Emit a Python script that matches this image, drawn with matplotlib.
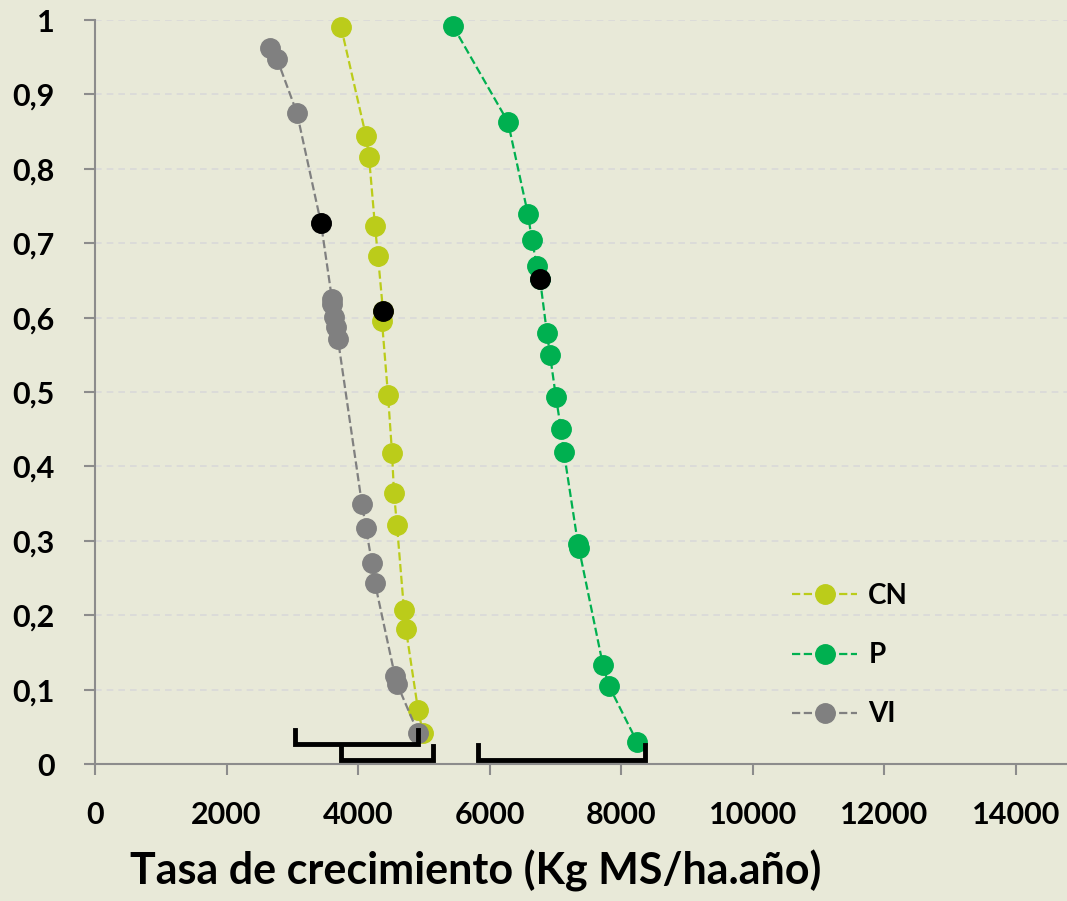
import matplotlib.pyplot as plt

# Data (x = growth rate, y = cumulative probability)
vi_x = [2660, 2766, 3070, 3435, 3602, 3605, 3633, 3663, 3693, 4058, 4119, 4210, 4256, 4560, 4590, 4910]
vi_y = [0.962, 0.948, 0.875, 0.727, 0.625, 0.618, 0.601, 0.587, 0.571, 0.349, 0.317, 0.270, 0.243, 0.118, 0.108, 0.042]

cn_x = [3739, 4119, 4165, 4256, 4301, 4378, 4362, 4454, 4515, 4545, 4590, 4697, 4727, 4910, 4986]
cn_y = [0.991, 0.844, 0.816, 0.723, 0.683, 0.609, 0.595, 0.496, 0.418, 0.364, 0.321, 0.207, 0.181, 0.073, 0.042]

p_x = [5441, 6277, 6581, 6642, 6718, 6764, 6870, 6916, 7007, 7083, 7128, 7341, 7356, 7721, 7812, 8238]
p_y = [0.992, 0.863, 0.739, 0.704, 0.669, 0.652, 0.579, 0.550, 0.493, 0.450, 0.419, 0.296, 0.290, 0.133, 0.105, 0.030]

# highlighted (black) points
black_x = [3435, 4378, 6764]
black_y = [0.727, 0.609, 0.652]

# ranges shown as brackets at the bottom: (start, end, top, bottom)
bracket_start = [3040, 3740, 5820]
bracket_end = [4910, 5140, 8360]
bracket_top = [0.046, 0.024, 0.025]
bracket_bottom = [0.027, 0.005, 0.005]

bg = "#E8E9D8"
font = "Lato"

fig = plt.figure(figsize=(10.67, 9.01), dpi=100, facecolor=bg)
ax = fig.add_axes([95 / 1067, 137 / 901, 1 - 95 / 1067, (764 - 20) / 901])
ax.set_facecolor(bg)

ms = 14
ax.plot(cn_x, cn_y, "--o", color="#BBCC1A", lw=1.6, ms=ms, label="CN", clip_on=False, zorder=3)
ax.plot(p_x, p_y, "--o", color="#00B050", lw=1.6, ms=ms, label="P", clip_on=False, zorder=3)
ax.plot(vi_x, vi_y, "--o", color="#808080", lw=1.6, ms=ms, label="VI", clip_on=False, zorder=3)
ax.plot(black_x, black_y, "o", color="black", ms=ms, clip_on=False, zorder=4)

for s, e, t, b in zip(bracket_start, bracket_end, bracket_top, bracket_bottom):
    ax.plot([s, s, e, e], [t, b, b, t], color="black", lw=3.5,
             solid_joinstyle="miter", clip_on=False, zorder=5)

ax.set_xlim(0, 14775)
ax.set_ylim(0, 1)
ax.set_xticks(range(0, 14001, 2000))
ax.set_yticks([i / 10 for i in range(11)])
ax.set_yticklabels(["0", "0,1", "0,2", "0,3", "0,4", "0,5", "0,6", "0,7", "0,8", "0,9", "1"])

ax.grid(axis="y", color="#D9D9D9", linestyle=(0, (4, 3)), lw=1.2)
ax.set_axisbelow(True)
for side in ["top", "right"]:
    ax.spines[side].set_visible(False)
for side in ["left", "bottom"]:
    ax.spines[side].set_color("#8C8C8C")
    ax.spines[side].set_linewidth(1.5)
ax.tick_params(axis="both", length=8, width=1.5, color="#8C8C8C", direction="out")
ax.tick_params(axis="x", pad=19)
ax.tick_params(axis="y", pad=21)
for lbl in ax.get_xticklabels() + ax.get_yticklabels():
    lbl.set_fontfamily(font)
    lbl.set_fontweight("bold")
    lbl.set_fontsize(22)

ax.set_xlabel("Tasa de crecimiento (Kg MS/ha.año)", fontfamily=font, fontweight="bold",
              fontsize=31, labelpad=15, x=0.392)

leg = ax.legend(loc="upper left", bbox_to_anchor=(0.717, 0.243), frameon=False,
                borderpad=0, borderaxespad=0,
                labelspacing=1.19, handlelength=2.35, handletextpad=0.4,
                prop={"family": font, "weight": "bold", "size": 20})

fig.savefig("out.png", dpi=100, facecolor=bg)
